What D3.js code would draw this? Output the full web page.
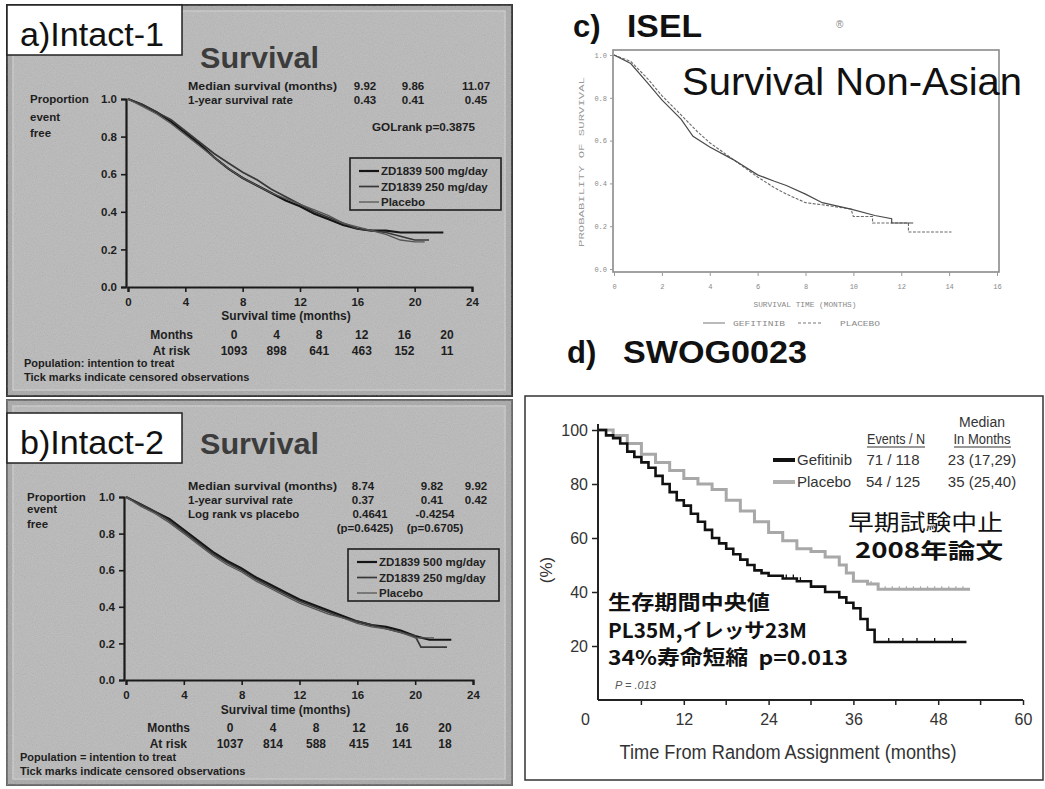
<!DOCTYPE html>
<html><head><meta charset="utf-8">
<script src="https://cdn.jsdelivr.net/npm/d3@7"></script>
<style>body{margin:0;background:#fff}svg{display:block}</style>
</head><body>
<script>
// ---------------- DATA ----------------
// Panel a (INTACT-1) - proportion event free by month
const a500M = [0,1,2,3,4,5,6,7,8,9,10,11,12,13,14,15,16,17,18,19,20,21,22];
const a500  = [1.0,0.97,0.93,0.88,0.82,0.76,0.69,0.63,0.58,0.54,0.50,0.46,0.43,0.39,0.36,0.33,0.31,0.30,0.30,0.29,0.29,0.29,0.29];
const a250M = [0,1,2,3,4,5,6,7,8,9,10,11,12,13,14,15,16,17,18,19,20,21];
const a250  = [1.0,0.97,0.93,0.89,0.83,0.77,0.71,0.66,0.61,0.57,0.52,0.48,0.44,0.40,0.37,0.34,0.31,0.30,0.29,0.27,0.25,0.25];
const aPlM  = [0,1,2,3,4,5,6,7,8,9,10,11,12,13,14,15,16,17,18,19,20,20.7];
const aPl   = [1.0,0.96,0.92,0.87,0.81,0.75,0.69,0.63,0.58,0.54,0.50,0.47,0.44,0.41,0.38,0.34,0.32,0.30,0.28,0.25,0.24,0.24];
// Panel b (INTACT-2)
const b500M = [0,1,2,3,4,5,6,7,8,9,10,11,12,13,14,15,16,17,18,19,20,21,22,22.5];
const b500  = [1.0,0.96,0.92,0.88,0.82,0.76,0.70,0.65,0.61,0.56,0.52,0.48,0.44,0.41,0.38,0.35,0.32,0.30,0.29,0.27,0.24,0.22,0.22,0.22];
const b250M = [0,1,2,3,4,5,6,7,8,9,10,11,12,13,14,15,16,17,18,19,20,20.4,22.2];
const b250  = [1.0,0.96,0.92,0.87,0.81,0.75,0.69,0.64,0.60,0.55,0.51,0.47,0.43,0.40,0.37,0.34,0.32,0.30,0.28,0.26,0.24,0.18,0.18];
const bPlM  = [0,1,2,3,4,5,6,7,8,9,10,11,12,13,14,15,16,17,18,19,20,21.3];
const bPl   = [1.0,0.95,0.91,0.86,0.80,0.74,0.68,0.63,0.59,0.54,0.50,0.46,0.42,0.39,0.36,0.34,0.31,0.29,0.28,0.26,0.23,0.23];
const intactXTicks = [0,4,8,12,16,20,24];
const intactYTicks = [0,0.2,0.4,0.6,0.8,1.0];
const intactSeries = ["ZD1839 500 mg/day","ZD1839 250 mg/day","Placebo"];
const riskMonths = [0,4,8,12,16,20];
const riskA = [1093,898,641,463,152,11];
const riskB = [1037,814,588,415,141,18];
const statsA = [["Median survival (months)","9.92","9.86","11.07"],["1-year survival rate","0.43","0.41","0.45"]];
const statsB = [["Median survival (months)","8.74","9.82","9.92"],["1-year survival rate","0.37","0.41","0.42"],["Log rank vs placebo","0.4641","-0.4254",""],["","(p=0.6425)","(p=0.6705)",""]];
// Panel c (ISEL non-Asian)
const cGefM = [0,0.7,1.4,2,2.8,3.3,4,5,6,6.7,7.2,8,8.7,9.9,10.9,11.6,11.6,12.5];
const cGef  = [1.0,0.96,0.87,0.79,0.70,0.62,0.57,0.51,0.44,0.41,0.39,0.35,0.31,0.28,0.25,0.235,0.215,0.215];
const cPlM  = [0,0.7,1.4,2,2.8,3.5,4,5,6,6.7,7.2,8,8.7,9.9,10,10.8,10.8,12.3,12.3,14.1];
const cPl   = [1.0,0.97,0.89,0.81,0.72,0.64,0.59,0.51,0.43,0.38,0.35,0.31,0.30,0.28,0.245,0.245,0.215,0.215,0.173,0.173];
const cXTicks = [0,2,4,6,8,10,12,14,16];
const cYTicks = [0,0.2,0.4,0.6,0.8,1.0];
// Panel d (SWOG0023)
const dGefM = [0,1,2,3,4,5,6,7,8,9,10,11,12,13,14,15,16,17,18,19,20,21,22,23,24,26,28,30,32,34,35,36,37,38,39,52];
const dGef  = [100,98,97,95,92,90,88,86,83,80,77,74,72,69,66,63,60,58,56,54,52,50,48,47,46,45,44,42,40,38,36,34,30,26,21.5,21.5];
const dPlM  = [0,2,4,6,8,10,12,14,16,18,20,22,24,26,28,30,32,34,35,36,38,39.5,52.5];
const dPl   = [100,98,95,91,88,85,82,80,78,74,70,66,62,59,56,55,53,50,47,44,43,41,41];
const dCensGef = [26.5,27.5,28.5,41,43,45,47.5,50];
const dCensPl  = [38.5,40.5,41.5,42.5,43.5,44.5,45.5,46.5,47.5,48.5,49.5,50.5,51.5];
const dXTicks = [0,12,24,36,48,60];
const dXMinor = [6,18,30,42,54];
const dYTicks = [20,40,60,80,100];
const dLegend = [["Gefitinib","71 / 118","23 (17,29)"],["Placebo","54 / 125","35 (25,40)"]];

// ---------------- SETUP ----------------
const SANS = "'Liberation Sans', Arial, sans-serif";
const NARROW = "'Liberation Sans Narrow', 'Liberation Sans', Arial, sans-serif";
const MONO = "'Liberation Mono', 'DejaVu Sans Mono', monospace";
const JP = "'Noto Sans CJK JP', sans-serif";
const svg = d3.select("body").append("svg").attr("width",1045).attr("height",789);
svg.append("rect").attr("width",1045).attr("height",789).attr("fill","#fff");
const defs = svg.append("defs");
const f = defs.append("filter").attr("id","noise").attr("x",0).attr("y",0).attr("width","100%").attr("height","100%");
f.append("feTurbulence").attr("type","fractalNoise").attr("baseFrequency",0.9).attr("numOctaves",2).attr("seed",4);
f.append("feColorMatrix").attr("type","saturate").attr("values",0);
f.append("feComponentTransfer").append("feFuncA").attr("type","linear").attr("slope",0.28);

const zip = (m,v)=>m.map((mm,i)=>[mm,v[i]]);
function txt(g,x,y,s,opt){
  const t = g.append("text").attr("x",x).attr("y",y).text(s)
    .attr("font-family",opt.ff||SANS).attr("font-size",opt.fs||11)
    .attr("font-weight",opt.fw||"normal").attr("fill",opt.fill||"#1e1e1e")
    .attr("text-anchor",opt.anchor||"start").style("white-space","pre");
  if(opt.tl){t.attr("textLength",opt.tl).attr("lengthAdjust","spacingAndGlyphs");}
  if(opt.style) t.attr("font-style",opt.style);
  return t;
}

// ---------------- PANELS A & B ----------------
function drawIntact(c){
  const g = svg.append("g");
  g.append("rect").attr("x",7).attr("y",c.top).attr("width",505).attr("height",c.h)
    .attr("fill","#a8a8a8").attr("stroke",c.border).attr("stroke-width",2);
  g.append("rect").attr("x",13).attr("y",c.top+6).attr("width",492).attr("height",c.h-12)
    .attr("fill","#b9b9b9").attr("stroke","#cacaca").attr("stroke-width",1.5);
  g.append("rect").attr("x",7).attr("y",c.top).attr("width",505).attr("height",c.h).attr("filter","url(#noise)");

  const x = d3.scaleLinear().domain([0,24]).range([c.x0,c.x1]);
  const y = d3.scaleLinear().domain([0,1]).range([c.yb,c.yt]);
  const xa = g.append("g").attr("transform",`translate(0,${c.yb})`)
    .call(d3.axisBottom(x).tickValues(intactXTicks).tickSize(5).tickPadding(6).tickFormat(d3.format("d")));
  const ya = g.append("g").attr("transform",`translate(${c.x0-2},0)`)
    .call(d3.axisLeft(y).tickValues(intactYTicks).tickSize(5).tickPadding(4).tickFormat(d3.format(".1f")));
  [xa,ya].forEach(a=>{
    a.select(".domain").attr("stroke","#1a1a1a").attr("stroke-width",2.2);
    a.selectAll(".tick line").attr("stroke","#1a1a1a").attr("stroke-width",1.6);
    a.selectAll("text").attr("font-family",SANS).attr("font-weight","bold").attr("font-size",11.5).attr("fill","#1e1e1e");
  });
  const styles = [["#151515",2.2],["#383838",1.7],["#555",1.3]];
  c.series.forEach((s,i)=>{
    g.append("path").datum(zip(s[0],s[1])).attr("fill","none")
      .attr("stroke",styles[i][0]).attr("stroke-width",styles[i][1])
      .attr("d",d3.line().x(d=>x(d[0])).y(d=>y(d[1])));
  });
  // legend
  g.append("rect").attr("x",c.lx).attr("y",c.ly).attr("width",151).attr("height",52)
    .attr("fill","none").attr("stroke","#1e1e1e").attr("stroke-width",1.6);
  intactSeries.forEach((s,i)=>{
    const yy = c.ly+13+i*15.5;
    g.append("line").attr("x1",c.lx+9).attr("x2",c.lx+29).attr("y1",yy).attr("y2",yy)
      .attr("stroke",styles[i][0]).attr("stroke-width",styles[i][1]);
    txt(g,c.lx+31,yy+4,s,{fs:11.5,fw:"bold",fill:"#222"});
  });
  // titles & stats
  txt(g,200,c.titleY,"Survival",{fs:29,fw:"bold",fill:"#3c3c3c",tl:119});
  const cols = c.cols;
  c.stats.forEach((r,i)=>{
    const yy = c.statY+i*14;
    if(r[0]) txt(g,188,yy,r[0],{fs:11.5,fw:"bold",tl:r[0].length>20?149:undefined});
    r.slice(1).forEach((v,j)=>{ if(v) txt(g,cols[i][j],yy,v,{fs:11.5,fw:"bold",anchor:"middle"}); });
  });
  if(c.extra) txt(g,372,c.extraY,c.extra,{fs:11.5,fw:"bold",tl:103});
  txt(g,c.propX,c.yt+4,"Proportion",{fs:11.5,fw:"bold"});
  txt(g,c.propX,c.yt+c.evOff,"event",{fs:11.5,fw:"bold"});
  txt(g,c.propX,c.yt+c.frOff,"free",{fs:11.5,fw:"bold"});
  txt(g,(c.x0+c.x1)/2-14,c.axTitleY,"Survival time (months)",{fs:12,fw:"bold",anchor:"middle"});
  // at-risk table
  const rx = d3.scaleLinear().domain([0,20]).range(c.riskRange);
  txt(g,c.monthsX,c.riskY,"Months",{fs:12,fw:"bold",anchor:"end"});
  txt(g,c.monthsX-3,c.riskY+16,"At risk",{fs:12,fw:"bold",anchor:"end"});
  riskMonths.forEach((m,i)=>{
    txt(g,rx(m),c.riskY,String(m),{fs:12,fw:"bold",anchor:"middle"});
    txt(g,rx(m),c.riskY+16,String(c.risk[i]),{fs:12,fw:"bold",anchor:"middle"});
  });
  txt(g,c.footX,c.footY,c.foot1,{fs:11,fw:"bold"});
  txt(g,c.footX,c.footY+14,"Tick marks indicate censored observations",{fs:11,fw:"bold"});
  // label box
  g.append("rect").attr("x",7).attr("y",c.labY).attr("width",175).attr("height",50)
    .attr("fill","#fff").attr("stroke","#222").attr("stroke-width",1.5);
  txt(g,20,c.labY+41,c.label,{fs:33,fill:"#111",tl:144});
}

drawIntact({top:5,h:391,border:"#3a3a3a",x0:128,x1:472,yt:99,yb:287,
  series:[[a500M,a500],[a250M,a250],[aPlM,aPl]],lx:350,ly:158,
  titleY:68,stats:statsA,statY:90,cols:[[365,413,476],[365,413,476]],
  extra:"GOLrank p=0.3875",extraY:131,propX:30,evOff:22,frOff:38,axTitleY:320,
  riskRange:[234,447],risk:riskA,monthsX:193,riskY:339,footX:24,footY:367,
  foot1:"Population: intention to treat",labY:5,label:"a)Intact-1"});
drawIntact({top:400,h:385,border:"#6a6a6a",x0:126,x1:473,yt:497,yb:680,
  series:[[b500M,b500],[b250M,b250],[bPlM,bPl]],lx:348,ly:549,
  titleY:454,stats:statsB,statY:490,cols:[[363,432,476],[363,432,476],[370,435],[365,435]],
  extra:null,propX:27,evOff:16,frOff:31,axTitleY:714,
  riskRange:[230,445],risk:riskB,monthsX:190,riskY:732,footX:20,footY:761,
  foot1:"Population = intention to treat",labY:413,label:"b)Intact-2"});

// ---------------- PANEL C ----------------
{
  const g = svg.append("g");
  const x = d3.scaleLinear().domain([0,16]).range([614,997]);
  const y = d3.scaleLinear().domain([0,1]).range([269,55]);
  txt(g,573,37,"c)",{fs:31,fw:"bold",fill:"#111"});
  txt(g,627,37,"ISEL",{fs:31,fw:"bold",fill:"#111",tl:75});
  txt(g,836,28,"®",{fs:10,fill:"#888"});
  g.append("rect").attr("x",613).attr("y",50).attr("width",386).attr("height",222)
    .attr("fill","none").attr("stroke","#8a8a8a").attr("stroke-width",1.6);
  const xa = g.append("g").attr("transform","translate(0,272)")
    .call(d3.axisBottom(x).tickValues(cXTicks).tickSize(4).tickPadding(8).tickFormat(d3.format("d")));
  const ya = g.append("g").attr("transform","translate(613,0)")
    .call(d3.axisLeft(y).tickValues(cYTicks).tickSize(3).tickPadding(3).tickFormat(d3.format(".1f")));
  [xa,ya].forEach(a=>{
    a.select(".domain").remove();
    a.selectAll(".tick line").attr("stroke","#999");
    a.selectAll("text").attr("font-family",MONO).attr("font-size",7).attr("fill","#888");
  });
  g.append("path").datum(zip(cPlM,cPl)).attr("fill","none").attr("stroke","#6a6a6a").attr("stroke-width",1.1)
    .attr("stroke-dasharray","3,1.5").attr("d",d3.line().x(d=>x(d[0])).y(d=>y(d[1])));
  g.append("path").datum(zip(cGefM,cGef)).attr("fill","none").attr("stroke","#4a4a4a").attr("stroke-width",1.2)
    .attr("d",d3.line().x(d=>x(d[0])).y(d=>y(d[1])));
  txt(g,0,0,"PROBABILITY OF SURVIVAL",{ff:MONO,fs:7,fill:"#999",anchor:"middle",tl:170})
    .attr("transform","translate(584,162) rotate(-90)");
  txt(g,805,307,"SURVIVAL TIME (MONTHS)",{ff:MONO,fs:7.5,fill:"#888",anchor:"middle",tl:103});
  g.append("line").attr("x1",703).attr("x2",725).attr("y1",323).attr("y2",323).attr("stroke","#777").attr("stroke-width",1);
  txt(g,733,326,"GEFITINIB",{ff:MONO,fs:8,fill:"#888",tl:52});
  g.append("line").attr("x1",798).attr("x2",822).attr("y1",323).attr("y2",323).attr("stroke","#777").attr("stroke-width",1).attr("stroke-dasharray","3,2");
  txt(g,840,326,"PLACEBO",{ff:MONO,fs:8,fill:"#888",tl:40});
  txt(g,682,95,"Survival Non-Asian",{fs:38,fill:"#111",tl:340});
}

// ---------------- PANEL D ----------------
{
  const g = svg.append("g");
  txt(g,567,363,"d)",{fs:31,fw:"bold",fill:"#111"});
  txt(g,623,363,"SWOG0023",{fs:31,fw:"bold",fill:"#111",tl:184});
  g.append("rect").attr("x",525).attr("y",396).attr("width",518).attr("height",384)
    .attr("fill","#fff").attr("stroke","#333").attr("stroke-width",1.5);
  const x = d3.scaleLinear().domain([0,60]).range([599,1023]);
  const y = d3.scaleLinear().domain([0,100]).range([700,430]);
  const xa = g.append("g").attr("transform","translate(0,700)")
    .call(d3.axisBottom(x).tickValues(dXTicks).tickSize(5).tickPadding(9).tickFormat(d3.format("d")));
  xa.select(".domain").attr("d","M598,0H1023");
  g.append("g").attr("transform","translate(0,700)").selectAll("line").data(dXMinor).join("line")
    .attr("x1",d=>x(d)).attr("x2",d=>x(d)).attr("y1",0).attr("y2",5).attr("stroke","#222").attr("stroke-width",1.5);
  xa.selectAll(".tick").filter(d=>d===0).select("text").attr("x",-14);
  xa.selectAll(".tick").filter(d=>d===0).select("line").remove();
  const ya = g.append("g").attr("transform","translate(598,0)")
    .call(d3.axisLeft(y).tickValues(dYTicks).tickSize(6).tickPadding(4));
  ya.select(".domain").attr("d","M0,424V700");
  [xa,ya].forEach(a=>{
    a.select(".domain").attr("stroke","#222").attr("stroke-width",2);
    a.selectAll(".tick line").attr("stroke","#222").attr("stroke-width",1.5);
    a.selectAll("text").attr("font-family",NARROW).attr("font-size",16).attr("fill","#333");
  });
  txt(g,0,0,"(%)",{ff:NARROW,fs:17,fill:"#333",anchor:"middle"}).attr("transform","translate(552,570) rotate(-90)");
  txt(g,788,759,"Time From Random Assignment (months)",{ff:NARROW,fs:20,fill:"#333",anchor:"middle",tl:337});
  const ln = d3.line().x(d=>x(d[0])).y(d=>y(d[1])).curve(d3.curveStepAfter);
  const stepVal = (M,V,t)=>V[Math.max(0,d3.bisectRight(M,t)-1)];
  g.append("path").datum(zip(dPlM,dPl)).attr("fill","none").attr("stroke","#a8a8a8").attr("stroke-width",3).attr("d",ln);
  g.selectAll(".cp").data(dCensPl).join("line").attr("x1",d=>x(d)).attr("x2",d=>x(d))
    .attr("y1",d=>y(stepVal(dPlM,dPl,d))-3).attr("y2",d=>y(stepVal(dPlM,dPl,d))).attr("stroke","#a8a8a8").attr("stroke-width",1.2);
  g.append("path").datum(zip(dGefM,dGef)).attr("fill","none").attr("stroke","#111").attr("stroke-width",2.6).attr("d",ln);
  g.selectAll(".cg").data(dCensGef).join("line").attr("x1",d=>x(d)).attr("x2",d=>x(d))
    .attr("y1",d=>y(stepVal(dGefM,dGef,d))-4).attr("y2",d=>y(stepVal(dGefM,dGef,d))).attr("stroke","#111").attr("stroke-width",1.3);
  // legend
  txt(g,896,444,"Events / N",{ff:NARROW,fs:14,fill:"#333",anchor:"middle",tl:58});
  g.append("line").attr("x1",867).attr("x2",925).attr("y1",447).attr("y2",447).attr("stroke","#333");
  txt(g,982,427,"Median",{ff:NARROW,fs:14,fill:"#333",anchor:"middle"});
  txt(g,982,444,"In Months",{ff:NARROW,fs:14,fill:"#333",anchor:"middle",tl:57});
  g.append("line").attr("x1",954).attr("x2",1011).attr("y1",447).attr("y2",447).attr("stroke","#333");
  const lc = [["#111",4],["#b0b0b0",4]];
  dLegend.forEach((r,i)=>{
    const yy = 460+i*22;
    g.append("line").attr("x1",773).attr("x2",795).attr("y1",yy).attr("y2",yy).attr("stroke",lc[i][0]).attr("stroke-width",lc[i][1]);
    txt(g,797,yy+5,r[0],{ff:NARROW,fs:15,fill:"#333"});
    txt(g,893,yy+5,r[1],{ff:NARROW,fs:15,fill:"#333",anchor:"middle"});
    txt(g,982,yy+5,r[2],{ff:NARROW,fs:15,fill:"#333",anchor:"middle"});
  });
  // annotations
  txt(g,848,530,"早期試験中止",{ff:JP,fs:22,fill:"#111",tl:155});
  txt(g,855,558,"2008年論文",{ff:JP,fs:21,fw:"bold",fill:"#111",tl:148});
  txt(g,608,610,"生存期間中央値",{ff:JP,fs:20,fw:"bold",fill:"#111",tl:162});
  txt(g,608,638,"PL35M,イレッサ23M",{ff:JP,fs:20,fw:"bold",fill:"#111",tl:199});
  txt(g,608,665,"34%寿命短縮  p=0.013",{ff:JP,fs:20,fw:"bold",fill:"#111",tl:240});
  txt(g,615,689,"P = .013",{fs:11,fill:"#555",style:"italic"});
}
</script>
</body></html>
